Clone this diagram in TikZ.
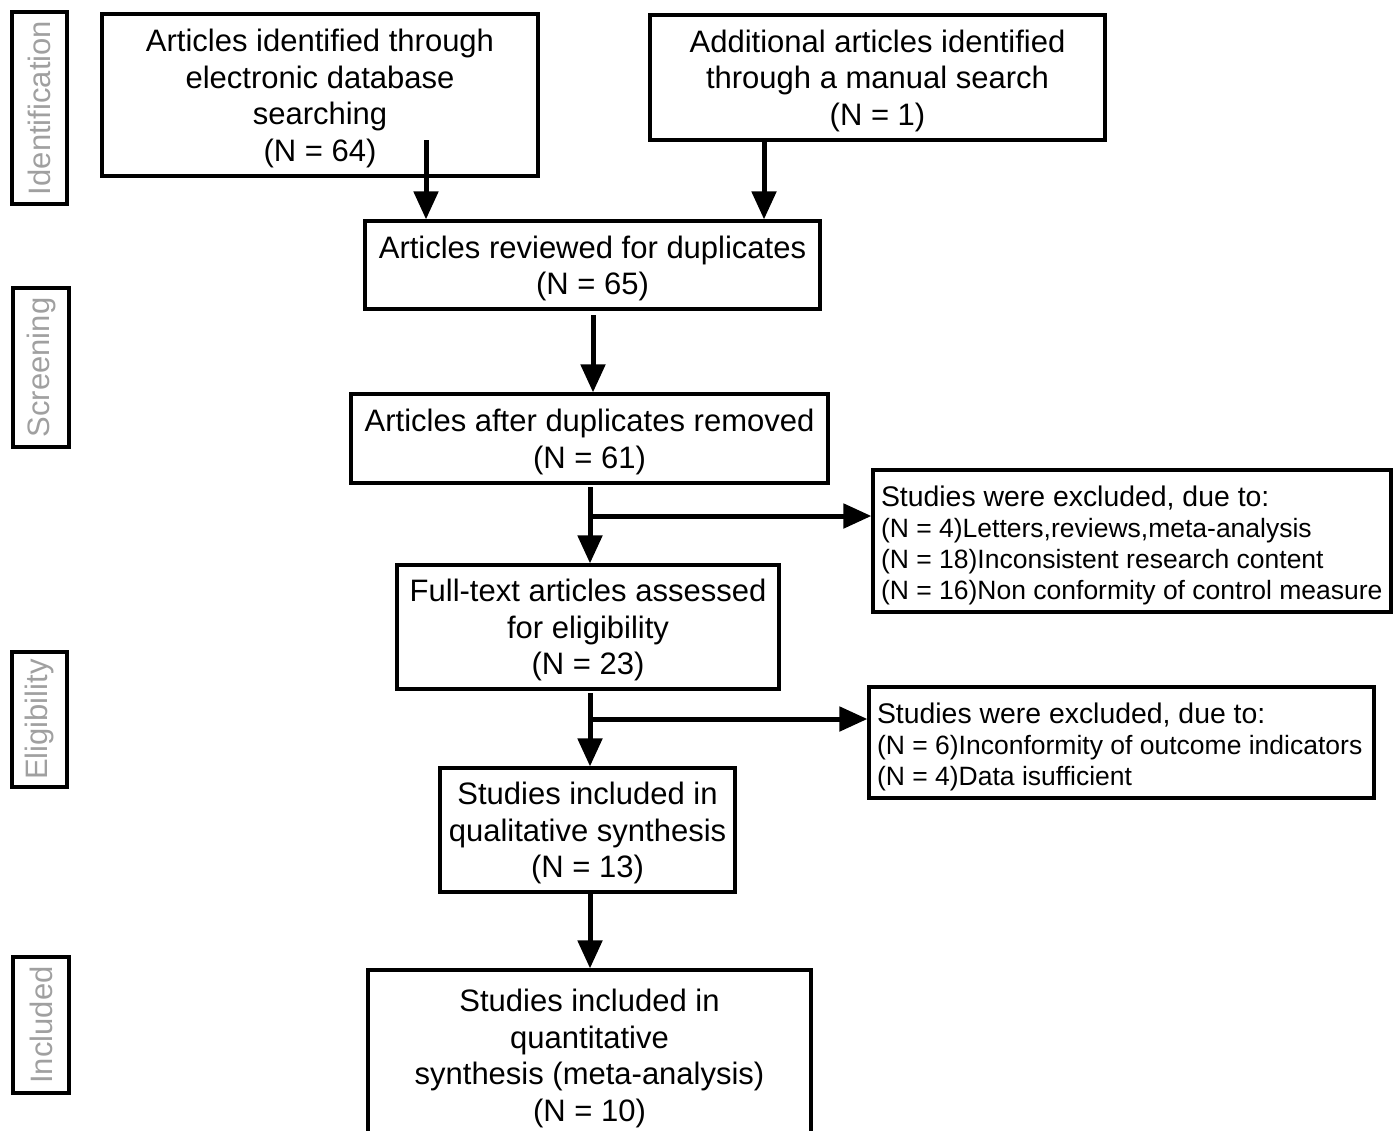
\documentclass[tikz,border=0pt]{standalone}
\usepackage{fontspec}
\setmainfont{Liberation Sans}
\usetikzlibrary{arrows.meta}
\definecolor{lblgray}{RGB}{160,160,160}
\newcommand\lowtext[1]{\raisebox{-2pt}[\height][\depth]{\begin{tabular}{@{}c@{}}#1\end{tabular}}}
\newcommand\lowleft[1]{\raisebox{-2.7pt}[\height][\depth]{\begin{tabular}{@{}l@{}}#1\end{tabular}}}
\begin{document}
\begin{tikzpicture}[x=0.5pt,y=-0.5pt,
 box/.style={draw, line width=1.6pt, align=center, inner sep=0pt, font=\fontsize{15.5}{18.25}\selectfont},
 side/.style={draw, line width=1.6pt, align=flush left, inner xsep=4pt, inner ysep=0pt, font=\fontsize{13.25}{15.5}\selectfont},
 lbl/.style={draw, line width=2pt, rotate=90, text=lblgray, inner sep=0pt, font=\fontsize{15.5}{18}\selectfont},
 arr/.style={line width=2.5pt, -{Triangle[width=12pt,length=14pt]}},
 link/.style={line width=2.5pt}]
\useasboundingbox (0,0) rectangle (1395,1130);

% stage labels
\node[lbl, minimum width=96pt, minimum height=27.5pt] (lid) at (39.5,108) {Identification};
\node[lbl, minimum width=79.5pt, minimum height=28pt] (lsc) at (41,367.5) {Screening};
\node[lbl, minimum width=67.5pt, minimum height=27.5pt] (lel) at (39.5,719.5) {Eligibility};
\node[lbl, minimum width=68pt, minimum height=28pt] (lin) at (41,1025) {Included};

% main boxes
\node[box, minimum width=218pt, minimum height=81pt] (b1) at (320,95)
  {\lowtext{Articles identified through\\electronic database\\searching\\(N = 64)}};
\node[box, minimum width=227.5pt, minimum height=62.5pt] (b2) at (877.5,77.5)
  {\lowtext{Additional articles identified\\through a manual search\\(N = 1)}};
\node[box, minimum width=227.5pt, minimum height=44pt] (b3) at (592.5,265)
  {\lowtext{Articles reviewed for duplicates\\(N = 65)}};
\node[box, minimum width=238.5pt, minimum height=44.5pt] (b4) at (589.5,438.5)
  {\lowtext{Articles after duplicates removed\\(N = 61)}};
\node[box, minimum width=191pt, minimum height=62pt] (b5) at (588,627)
  {\lowtext{Full-text articles assessed\\for eligibility\\(N = 23)}};
\node[box, minimum width=147.5pt, minimum height=62pt] (b6) at (587.5,830)
  {\lowtext{Studies included in\\qualitative synthesis\\(N = 13)}};
\node[box, minimum width=221.5pt, minimum height=85pt] (b7) at (589.5,1055)
  {\lowtext{Studies included in\\quantitative\\synthesis (meta-analysis)\\(N = 10)}};

% side boxes
\node[side, text width=251pt, minimum height=71pt] (s1) at (1132,541)
  {\lowleft{{\fontsize{14.2}{15.5}\selectfont Studies were excluded, due to:}\\(N = 4)Letters,reviews,meta-analysis\\(N = 18)Inconsistent research content\\(N = 16)Non conformity of control measure}};
\node[side, text width=244.5pt, minimum height=55.5pt] (s2) at (1121.5,742.5)
  {\lowleft{{\fontsize{14.2}{15.5}\selectfont Studies were excluded, due to:}\\(N = 6)Inconformity of outcome indicators\\(N = 4)Data isufficient}};

% connector start points
\coordinate (p1) at (426,140);
\coordinate (p2) at (764,140);
\coordinate (p3) at (593,315);
\coordinate (p4) at (590,487);
\coordinate (q1) at (590,516);
\coordinate (p5) at (590,693);
\coordinate (q2) at (590,719);
\coordinate (p6) at (590,893);

\draw[arr] (p1) -- (p1 |- b3.north);
\draw[arr] (p2) -- (p2 |- b3.north);
\draw[arr] (p3) -- (p3 |- b4.north);
\draw[arr] (p4) -- (p4 |- b5.north);
\draw[arr] (q1) -- (q1 -| s1.west);
\draw[arr] (p5) -- (p5 |- b6.north);
\draw[arr] (q2) -- (q2 -| s2.west);
\draw[arr] (p6) -- (p6 |- b7.north);
\end{tikzpicture}
\end{document}
